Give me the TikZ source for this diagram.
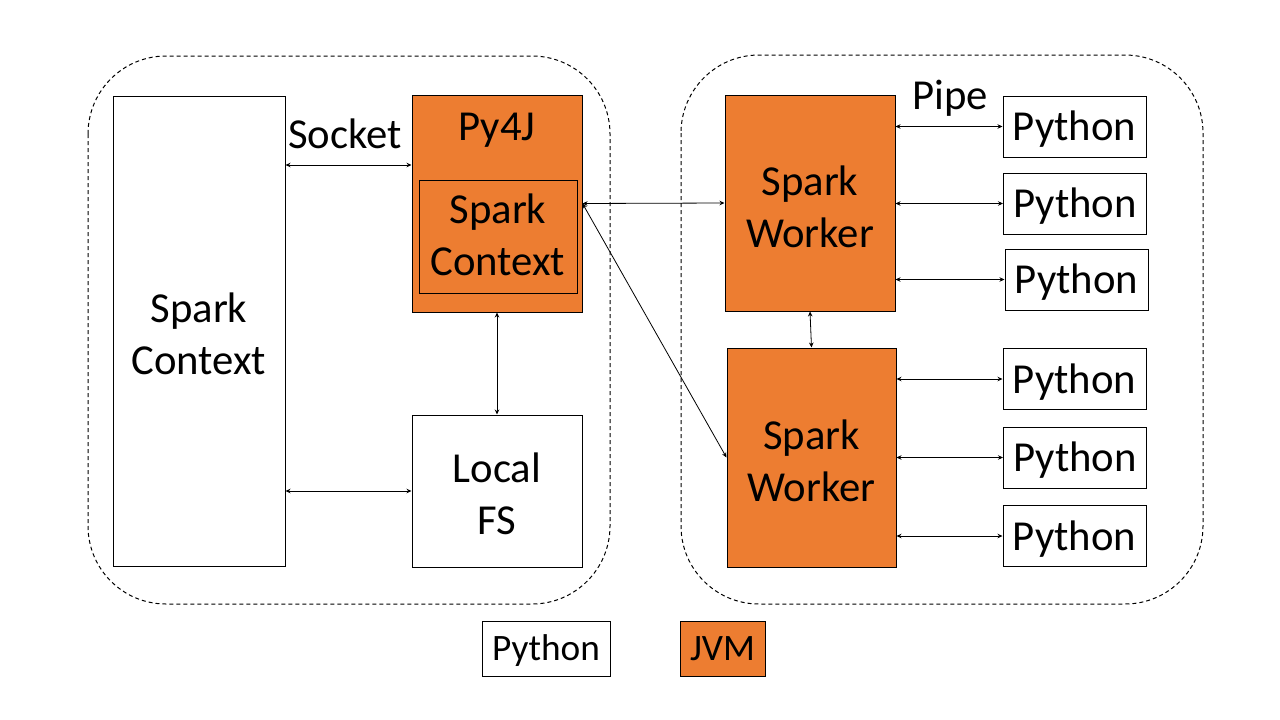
\documentclass[tikz,border=0pt]{standalone}
\usepackage{fontspec}
\setmainfont{Carlito}
\usepackage{tikz}
\usetikzlibrary{arrows.meta}
\definecolor{jvmorange}{RGB}{237,125,49}

\begin{document}
\begin{tikzpicture}[x=1pt,y=-1pt,>={Stealth[length=5pt,width=4.5pt]},
    font=\fontsize{42.7}{52}\selectfont]
  \tikzstyle{pybox}=[draw,line width=1pt,inner sep=0pt,align=center]
  \tikzstyle{jvmbox}=[pybox,fill=jvmorange]
  \tikzstyle{legend}=[font=\fontsize{37.3}{45}\selectfont,minimum height=55pt,text height=24pt,text depth=0pt]
  \tikzstyle{cluster}=[draw,line width=1pt,dash pattern=on 4pt off 3pt,rounded corners=78pt]

  \useasboundingbox (0,0) rectangle (1280,720);

  \draw[cluster] (88,56) rectangle (610,604);
  \draw[cluster] (681,55) rectangle (1203,604);

  \node[pybox,minimum width=172pt,minimum height=470pt,text height=86pt,text depth=0pt]  (sc)   at (199,331)   {Spark\\Context};
  \node[jvmbox,minimum width=170pt,minimum height=217pt] (py4j) at (497,203.5) {};
  \node[anchor=base]                                     (py4jlabel) at (497,140) {Py4J};
  \node[jvmbox,minimum width=158pt,minimum height=113pt,text height=78pt,text depth=0pt] (jsc)  at (498,236.5) {Spark\\Context};
  \node[pybox,minimum width=170pt,minimum height=152pt,text height=86pt,text depth=0pt]  (fs)   at (497,491)   {Local\\FS};

  \node[jvmbox,minimum width=170pt,minimum height=216pt,text height=88pt,text depth=0pt] (w1) at (810,203)     {Spark\\Worker};
  \node[jvmbox,minimum width=169pt,minimum height=219pt,text height=88pt,text depth=0pt] (w2) at (811.5,457.5) {Spark\\Worker};

  \foreach \i/\x/\y in {1/1074.5/126.5, 2/1075/203.5, 3/1076.5/279.5,
                        4/1074.5/379, 5/1075/457.5, 6/1074.5/536}
    \node[pybox,minimum width=143pt,minimum height=61pt,text height=28pt,text depth=0pt] (p\i) at (\x,\y) {Python};

  \node[anchor=base] (socket) at (345,148) {Socket};
  \node[anchor=base] (pipe)   at (950,109) {Pipe};

  \node[pybox,legend,minimum width=128pt] (legpy)  at (546,648.5)   {Python};
  \node[jvmbox,legend,minimum width=85pt] (legjvm) at (722.5,648.5) {JVM};

  \coordinate (sock) at ([yshift=38.5pt]py4j.west);

  \path[<->,line width=0.8pt]
  (sc.east |- sock)    edge (sock)
  (sc.east |- fs.west) edge (fs.west)
  (py4j.south)         edge (fs.north)
  (py4j.east)          edge (w1.west)
  (py4j.east)          edge (w2.west)
  (w1.south)           edge (w2.north)
  (w1.east |- p1.west) edge (p1.west)
  (w1.east |- p2.west) edge (p2.west)
  (w1.east |- p3.west) edge (p3.west)
  (w2.east |- p4.west) edge (p4.west)
  (w2.east |- p5.west) edge (p5.west)
  (w2.east |- p6.west) edge (p6.west)
  ;
\end{tikzpicture}
\end{document}
